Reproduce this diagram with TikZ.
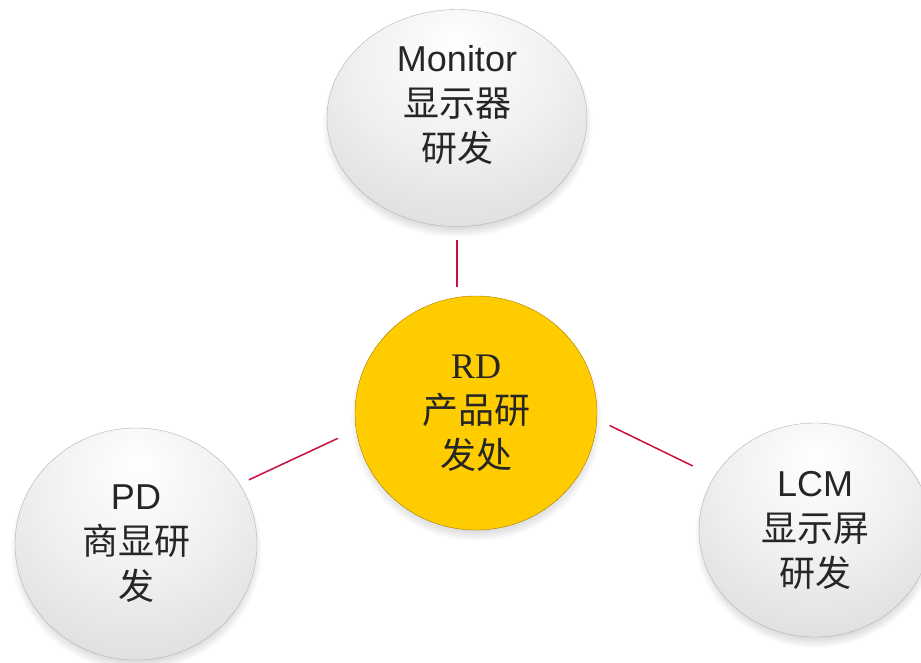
\documentclass[tikz,border=0pt]{standalone}
\usepackage{fontspec}
\setmainfont{Liberation Sans}
\newfontfamily\cjk{Noto Sans CJK SC}
\newfontfamily\rdserif{Liberation Serif}
\usetikzlibrary{shapes.geometric,shadows}

\definecolor{linkred}{RGB}{200,16,60}
\definecolor{rdin}{RGB}{255,204,0}
\definecolor{rdout}{RGB}{210,155,0}
\definecolor{greyout}{RGB}{200,200,200}
\pgfdeclareradialshading{rdball}{\pgfpoint{0bp}{0bp}}{color(0bp)=(rdin); color(42bp)=(rdin); color(50bp)=(rdout)}
\pgfdeclareradialshading{greyball}{\pgfpoint{0bp}{18bp}}{color(0bp)=(white); color(20bp)=(white!94!black); color(56bp)=(greyout); color(67bp)=(black!50)}

\tikzset{
  unit/.style={ellipse,inner sep=0pt,align=center,text=black!85,
    font=\fontsize{36}{45}\selectfont,
    circular drop shadow={shadow xshift=0pt,shadow yshift=-6pt,shadow scale=1.04,opacity=.45}},
  dept/.style={unit,shading=greyball,draw=black!30,line width=.4pt},
  hub/.style={unit,shading=rdball,draw=rdout!80!black,line width=.4pt},
  link/.style={draw=linkred,line width=1.5pt}
}

\begin{document}
\begin{tikzpicture}[x=1pt,y=-1pt]
  \useasboundingbox (0,0) rectangle (921,662);

  \node[dept,minimum width=260pt,minimum height=217pt,text depth=30pt] (monitor) at (457,118) {Monitor\\{\cjk 显示器}\\{\cjk 研发}};
  \node[hub,minimum width=242pt,minimum height=234pt] (rd) at (476,413) {{\rdserif RD}\\{\cjk 产品研}\\{\cjk 发处}};
  \node[dept,minimum width=242pt,minimum height=232pt] (pd) at (136,544) {PD\\{\cjk 商显研}\\{\cjk 发}};
  \node[dept,minimum width=232pt,minimum height=214pt] (lcm) at (815,530) {LCM\\{\cjk 显示屏}\\{\cjk 研发}};

  \draw[link,shorten <=13pt,shorten >=9pt] (monitor.south) -- (monitor.south |- rd.north);
  \draw[link,shorten <=10pt,shorten >=20pt] (pd.30) -- (rd.188);
  \draw[link,shorten <=14pt,shorten >=24pt] (rd.-3) -- (lcm.152);
\end{tikzpicture}
\end{document}
